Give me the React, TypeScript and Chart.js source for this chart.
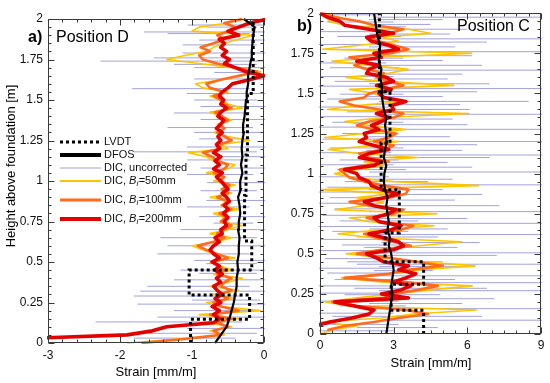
import React, { useEffect, useRef } from "react";
import { Chart, registerables } from "chart.js";

Chart.register(...registerables);

const FONT = '"Liberation Sans", Arial, Helvetica, sans-serif';

// ---------- shared height grid for the filtered DIC curves (m) ----------
const gridH = [
  0, 0.025, 0.05, 0.075, 0.1, 0.125, 0.15, 0.175, 0.2, 0.225,
  0.25, 0.275, 0.3, 0.325, 0.35, 0.375, 0.4, 0.425, 0.45, 0.475,
  0.5, 0.525, 0.55, 0.575, 0.6, 0.625, 0.65, 0.675, 0.7, 0.725,
  0.75, 0.775, 0.8, 0.825, 0.85, 0.875, 0.9, 0.925, 0.95, 0.975,
  1, 1.025, 1.05, 1.075, 1.1, 1.125, 1.15, 1.175, 1.2, 1.225,
  1.25, 1.275, 1.3, 1.325, 1.35, 1.375, 1.4, 1.425, 1.45, 1.475,
  1.5, 1.525, 1.55, 1.575, 1.6, 1.625, 1.65, 1.675, 1.7, 1.725,
  1.75, 1.775, 1.8, 1.825, 1.85, 1.875, 1.9, 1.925, 1.95, 1.975,
  2,
];

// ---------- Position D (left panel), strain in mm/m ----------
const dLvdtH = [0, 0.146, 0.146, 0.296, 0.296, 0.45, 0.45, 0.63, 0.63, 0.91, 0.91, 1.16, 1.16, 1.54, 1.54, 2];
const dLvdtV = [-1.02, -1.02, -0.2, -0.2, -1.04, -1.04, -0.17, -0.17, -0.27, -0.27, -0.25, -0.25, -0.23, -0.23, -0.15, -0.15];

const dDfosH = [0, 0.05, 0.1, 0.15, 0.2, 0.25, 0.3, 0.35, 0.4, 0.45, 0.5, 0.55, 0.6, 0.65, 0.7, 0.75, 0.8, 0.85, 0.9, 0.95, 1, 1.05, 1.1, 1.15, 1.2, 1.25, 1.3, 1.35, 1.4, 1.45, 1.5, 1.55, 1.6, 1.65, 1.7, 1.75, 1.8, 1.85, 1.9, 1.95, 1.975, 2];
const dDfosV = [-0.68, -0.6, -0.52, -0.48, -0.45, -0.42, -0.4, -0.38, -0.38, -0.36, -0.37, -0.35, -0.35, -0.34, -0.36, -0.35, -0.33, -0.34, -0.36, -0.32, -0.33, -0.3, -0.32, -0.3, -0.31, -0.3, -0.28, -0.29, -0.27, -0.26, -0.25, -0.24, -0.22, -0.22, -0.2, -0.18, -0.17, -0.16, -0.15, -0.13, -0.2, -0.28];

// uncorrected DIC: noisy excursions, one horizontal trace per height (left end, right end)
const dRawH = [
  0.03, 0.06, 0.09, 0.13, 0.16, 0.2, 0.24, 0.265, 0.29, 0.32,
  0.35, 0.39, 0.43, 0.45, 0.49, 0.51, 0.55, 0.6, 0.65, 0.7,
  0.74, 0.78, 0.84, 0.88, 0.94, 0.99, 1.04, 1.08, 1.13, 1.15,
  1.18, 1.21, 1.26, 1.3, 1.33, 1.38, 1.42, 1.46, 1.5, 1.54,
  1.57, 1.63, 1.67, 1.7, 1.72, 1.74, 1.76, 1.79, 1.84, 1.87,
  1.91, 1.92, 1.95, 1.963,
];
const dRawLo = [
  -1.81, -1.62, -1.07, -2.34, -1.48, -1.25, -1.76, -1.0, -1.81, -1.72,
  -1.62, -1.25, -0.9, -1.16, -0.8, -0.97, -1.48, -1.34, -1.44, -1.16,
  -0.7, -0.9, -1.07, -0.8, -0.88, -0.79, -1.07, -0.88, -1.07, -0.79,
  -1.81, -1.07, -0.9, -0.97, -1.34, -0.88, -1.25, -0.88, -0.97, -1.07,
  -1.83, -0.97, -0.69, -0.97, -1.25, -2.27, -1.53, -1.13, -1.13, -0.9,
  -1.34, -1.67, -0.79, -1.06,
];
const dRawHi = [
  -0.4, -0.1, 0.1, -0.3, 0.05, -0.15, 0.1, -0.05, -0.3, 0.1,
  -0.2, 0.05, -0.1, 0.1, -0.1, 0.1, -0.2, 0.05, -0.1, 0.1,
  -0.15, 0.05, -0.2, 0.1, -0.1, 0.05, -0.15, 0.1, -0.2, 0.05,
  -0.1, 0.1, -0.2, 0.0, -0.15, 0.1, -0.2, 0.05, -0.1, 0.1,
  -0.2, 0.1, -0.05, 0.05, -0.1, 0.0, -0.15, 0.1, -0.1, 0.05,
  -0.2, 0.1, -0.1, 0.0,
];

const dDic50 = [
  -1.9, -1.2, -0.55, -0.75, -0.45, -0.8, -0.35, -0.9, -0.05, -0.6,
  -0.8, -0.4, -0.7, -0.35, -0.75, -0.5, -0.3, -0.7, -0.45, -0.6,
  -0.75, -0.4, -0.7, -0.85, -1.0, -0.65, -0.45, -0.75, -0.5, -0.3,
  -0.6, -0.55, -0.7, -0.35, -0.6, -0.5, -0.75, -0.45, -0.6, -0.4,
  -0.7, -0.55, -0.8, -0.5, -0.4, -0.7, -0.8, -1.05, -0.5, -0.6,
  -0.2, -0.5, -0.7, -0.55, -0.65, -0.45, -0.6, -0.75, -0.3, -0.5,
  -0.6, -0.75, -0.5, -0.85, -0.95, -0.6, -0.3, -0.05, -0.45, -0.9,
  -1.35, -1.1, -0.8, -0.7, -0.55, -0.35, -0.15, -1.0, -0.9, -0.5,
  -0.3,
];
const dDic100 = [
  -1.7, -1.1, -0.6, -0.7, -0.5, -0.65, -0.45, -0.75, -0.35, -0.6,
  -0.7, -0.5, -0.62, -0.45, -0.6, -0.55, -0.45, -0.65, -0.55, -0.62,
  -0.7, -0.5, -0.65, -0.8, -0.92, -0.7, -0.55, -0.65, -0.55, -0.45,
  -0.6, -0.52, -0.62, -0.45, -0.58, -0.5, -0.65, -0.5, -0.58, -0.48,
  -0.62, -0.55, -0.7, -0.55, -0.5, -0.65, -0.72, -0.85, -0.6, -0.62,
  -0.45, -0.55, -0.65, -0.55, -0.62, -0.5, -0.58, -0.68, -0.45, -0.55,
  -0.6, -0.7, -0.55, -0.75, -0.8, -0.6, -0.35, -0.1, -0.4, -0.65,
  -0.85, -0.9, -0.75, -0.88, -0.7, -0.55, -0.65, -0.5, -0.4, -0.55,
  -0.3,
];
const dDic200 = [
  null, -3.5, -1.9, -1.55, -1.35, -0.7, -0.62, -0.7, -0.62, -0.72,
  -0.6, -0.68, -0.58, -0.65, -0.7, -0.6, -0.66, -0.58, -0.68, -0.62,
  -0.72, -0.62, -0.7, -0.75, -0.7, -0.62, -0.68, -0.58, -0.6, -0.52,
  -0.55, -0.5, -0.56, -0.5, -0.55, -0.48, -0.52, -0.58, -0.5, -0.55,
  -0.6, -0.66, -0.58, -0.7, -0.62, -0.68, -0.6, -0.7, -0.62, -0.66,
  -0.6, -0.64, -0.58, -0.66, -0.6, -0.56, -0.64, -0.6, -0.52, -0.6,
  -0.56, -0.62, -0.58, -0.5, -0.44, -0.2, 0.0, -0.25, -0.4, -0.55,
  -0.48, -0.58, -0.52, -0.6, -0.55, -0.62, -0.35, -0.5, -0.35, -0.2,
  0.05,
];

// ---------- Position C (right panel) ----------
const cLvdtH = [0, 0.148, 0.148, 0.31, 0.31, 0.45, 0.45, 0.63, 0.63, 0.9, 0.9, 1.19, 1.19, 1.51, 1.51, 2];
const cLvdtV = [4.22, 4.22, 2.9, 2.9, 4.22, 4.22, 2.65, 2.65, 3.23, 3.23, 2.49, 2.49, 2.85, 2.85, 2.42, 2.42];

const cDfosH = [0, 0.05, 0.1, 0.15, 0.2, 0.25, 0.3, 0.35, 0.4, 0.45, 0.5, 0.55, 0.6, 0.65, 0.7, 0.75, 0.8, 0.85, 0.9, 0.95, 1, 1.05, 1.1, 1.15, 1.2, 1.25, 1.3, 1.35, 1.4, 1.45, 1.5, 1.55, 1.6, 1.65, 1.7, 1.75, 1.8, 1.85, 1.9, 1.95, 2];
const cDfosV = [2.7, 2.75, 2.8, 2.85, 2.9, 2.95, 2.9, 2.95, 3.0, 2.95, 2.9, 2.8, 2.85, 2.75, 2.8, 2.75, 2.7, 2.75, 2.65, 2.6, 2.62, 2.7, 2.6, 2.65, 2.72, 2.7, 2.65, 2.7, 2.6, 2.55, 2.5, 2.52, 2.45, 2.5, 2.4, 2.42, 2.45, 2.35, 2.3, 2.25, 2.2];

const cRawH = [
  0.02, 0.04, 0.06, 0.086, 0.11, 0.13, 0.158, 0.175, 0.19, 0.205,
  0.22, 0.245, 0.255, 0.27, 0.285, 0.3, 0.32, 0.34, 0.363, 0.38,
  0.395, 0.41, 0.42, 0.435, 0.45, 0.47, 0.49, 0.506, 0.52, 0.54,
  0.555, 0.57, 0.59, 0.605, 0.62, 0.64, 0.655, 0.67, 0.69, 0.705,
  0.72, 0.74, 0.763, 0.78, 0.8, 0.815, 0.835, 0.85, 0.87, 0.885,
  0.9, 0.915, 0.93, 0.95, 0.965, 0.98, 1.01, 1.025, 1.04, 1.055,
  1.07, 1.085, 1.1, 1.116, 1.13, 1.145, 1.16, 1.18, 1.2, 1.215,
  1.23, 1.25, 1.276, 1.29, 1.305, 1.32, 1.34, 1.355, 1.37, 1.385,
  1.4, 1.415, 1.43, 1.45, 1.465, 1.48, 1.495, 1.51, 1.53, 1.545,
  1.56, 1.575, 1.59, 1.605, 1.62, 1.645, 1.66, 1.675, 1.69, 1.705,
  1.72, 1.735, 1.76, 1.775, 1.79, 1.805, 1.82, 1.84, 1.855, 1.87,
  1.885, 1.9, 1.915, 1.93, 1.945, 1.96, 1.975, 1.99,
];
const cRawLo = [
  -0.5, 1.5, 0.2, 2.5, 0.5, -0.3, 2.2, 0.8, 2.0, -0.2,
  1.5, 1.0, -0.3, 2.4, 1.4, -0.4, 2.5, 0.6, 2.0, 0.3,
  2.2, -0.3, 2.4, 1.5, 1.1, 0.2, 2.2, 2.0, -0.2, 1.8,
  0.9, 2.5, 0.0, 1.5, 2.3, 0.5, 2.0, -0.4, 2.5, 0.8,
  2.2, 0.1, 2.0, 0.6, 2.3, -0.3, 1.6, 0.4, 2.4, -0.2,
  2.0, 0.3, 2.5, 1.0, 2.2, -0.2, 2.0, 0.7, 2.3, 0.0,
  1.8, 0.8, 2.2, 2.5, -0.3, 1.9, 0.4, 2.4, 2.0, 0.1,
  2.0, 0.9, 2.4, -0.2, 2.2, 0.5, 2.0, 0.0, 2.3, 1.1,
  2.2, -0.4, 2.0, 2.4, 0.3, 1.8, 0.8, 2.2, 2.3, -0.2,
  2.0, 0.6, 2.2, 0.0, 1.8, 2.3, 0.4, 2.0, -0.3, 2.2,
  1.0, 2.0, 2.4, 0.2, 2.0, -0.4, 2.2, 2.3, 0.7, 2.0,
  0.0, 2.2, 1.2, 2.0, 0.3, 2.0, 2.2, -0.2,
];
const cRawHi = [
  3.0, 4.8, 3.2, 9.5, 6.6, 3.0, 9.5, 3.5, 5.8, 3.2,
  7.1, 4.9, 2.8, 9.5, 6.8, 3.0, 9.5, 5.5, 9.5, 3.4,
  4.6, 3.0, 6.3, 9.5, 5.0, 3.3, 7.2, 9.5, 3.0, 5.6,
  3.4, 6.5, 3.2, 4.8, 9.5, 3.6, 5.2, 2.8, 9.5, 4.0,
  6.0, 3.0, 9.5, 3.5, 7.3, 2.6, 5.5, 3.0, 6.6, 3.2,
  5.0, 3.3, 9.5, 4.4, 5.4, 2.8, 9.5, 3.5, 6.2, 3.0,
  5.2, 3.2, 6.9, 9.5, 2.9, 5.8, 3.4, 6.4, 9.5, 3.0,
  5.3, 3.2, 9.5, 2.7, 6.0, 3.4, 5.4, 2.9, 9.5, 3.8,
  6.1, 2.8, 5.7, 8.5, 3.0, 5.0, 3.4, 6.4, 9.5, 2.8,
  6.9, 3.2, 5.2, 3.0, 5.8, 9.5, 3.2, 6.6, 2.7, 5.0,
  3.4, 6.2, 9.5, 3.0, 5.5, 2.6, 6.8, 9.5, 3.3, 5.3,
  2.8, 6.0, 3.5, 4.5, 3.0, 5.0, 9.5, 2.4,
];

const cDic50 = [
  0.0, 0.5, 1.5, 0.0, 2.5, 3.8, 6.37, 1.2, 0.2, 1.5,
  3.0, 4.5, 6.2, 2.5, 0.87, 2.8, 4.0, 6.32, 4.2, 2.5,
  1.07, 2.5, 4.0, 5.78, 2.2, 0.73, 2.5, 4.64, 2.0, 1.2,
  4.77, 0.6, 1.8, 2.6, 1.5, 3.0, 0.07, 6.46, 3.0, 1.4,
  0.6, 1.5, 2.6, 1.8, 3.96, 1.6, 0.33, 2.2, 3.2, 0.2,
  1.8, 3.5, 2.0, 1.0, 2.6, 6.05, 0.3, 1.5, 3.5, 2.6,
  2.2, 1.2, 5.45, 2.5, 1.06, 2.8, 3.6, 2.0, 0.48, 2.4,
  6.18, 0.1, 1.6, 3.2, 2.5, 4.5, 3.6, 1.0, 0.33, 0.8,
  0.2,
];
const cDic100 = [
  null, 0.3, 1.0, 2.2, 3.2, 4.4, 3.5, 1.5, 0.5, 2.6,
  3.0, 4.0, 4.8, 3.4, 1.0, 2.8, 3.6, 5.0, 3.9, 2.8,
  1.5, 2.5, 3.7, 3.0, 2.3, 1.8, 3.3, 3.8, 2.5, 1.9,
  3.0, 3.4, 2.0, 1.2, 2.8, 3.5, 3.6, 2.6, 1.8, 1.2,
  1.0, 0.8, 1.8, 2.8, 2.0, 1.6, 2.6, 3.0, 2.2, 2.8,
  3.1, 2.2, 1.5, 2.0, 3.0, 3.4, 2.4, 1.4, 0.8, 1.8,
  2.0, 2.6, 3.4, 2.8, 2.3, 2.6, 1.9, 1.4, 1.8, 1.2,
  2.9, 3.6, 3.0, 2.4, 2.0, 2.8, 3.4, 2.2, 1.6, 0.6,
  0.1,
];
const cDic200 = [
  null, -0.5, -0.2, 0.4, 1.3, 2.0, 2.2, 1.4, 0.6, 3.6,
  2.5, 3.3, 3.7, 3.0, 3.5, 3.9, 3.2, 3.6, 2.6, 2.3,
  1.9, 3.0, 3.4, 3.2, 2.6, 2.0, 2.9, 3.3, 2.4, 2.2,
  2.8, 3.1, 2.2, 1.8, 2.6, 3.2, 2.5, 2.1, 2.0, 1.6,
  1.5, 1.0, 2.2, 2.5, 1.6, 2.0, 2.8, 2.2, 1.6, 1.9,
  1.8, 2.4, 2.1, 2.5, 2.8, 2.3, 3.0, 2.9, 3.5, 2.6,
  2.4, 2.9, 2.3, 3.0, 2.7, 1.9, 2.0, 2.4, 1.5, 2.5,
  2.2, 3.2, 2.8, 2.1, 1.9, 3.0, 2.0, 1.0, 0.8, 0.3,
  0.0,
];

// ---------- axes ----------
const yTicks = [0, 0.25, 0.5, 0.75, 1, 1.25, 1.5, 1.75, 2];
const dXTicks = [-3, -2, -1, 0];
const cXTicks = [0, 3, 6, 9];

const legendLabels = ["LVDT", "DFOS", "DIC, uncorrected", "DIC, B_i=50mm", "DIC, B_i=100mm", "DIC, B_i=200mm"];

const COL_RAW = "rgba(100,100,198,0.6)";
const COL_50 = "#ffc400";
const COL_100 = "#ff6a1c";
const COL_200 = "#e20000";

function pts(hs: number[], vs: (number | null)[]) {
  const out: { x: number; y: number }[] = [];
  for (let i = 0; i < hs.length; i++) {
    const v = vs[i];
    if (v !== null && v !== undefined) out.push({ x: v, y: hs[i] });
  }
  return out;
}

function traces(hs: number[], lo: number[], hi: number[]) {
  const out: { x: number | null; y: number | null }[] = [];
  for (let i = 0; i < hs.length; i++) {
    out.push({ x: lo[i], y: hs[i] });
    out.push({ x: hi[i], y: hs[i] });
    out.push({ x: null, y: null });
  }
  return out;
}

function drawFrame(chart: any, xMin: number, xMax: number, xMajor: number[], xMinor: number) {
  const { ctx, chartArea: a } = chart;
  const xs = chart.scales.x;
  const ys = chart.scales.y;
  ctx.save();
  ctx.strokeStyle = "#3a3a3a";
  ctx.lineWidth = 1;
  const L = Math.round(a.left) + 0.5;
  const R = Math.round(a.right) - 0.5;
  const T = Math.round(a.top) + 0.5;
  const B = Math.round(a.bottom) - 0.5;
  ctx.strokeRect(L, T, R - L, B - T);
  ctx.beginPath();
  const nX = Math.round((xMax - xMin) / xMinor);
  for (let i = 0; i <= nX; i++) {
    const v = xMin + i * xMinor;
    const major = xMajor.some((m) => Math.abs(m - v) < 1e-6);
    const len = major ? 6 : 3;
    const px = Math.round(xs.getPixelForValue(v)) + 0.5;
    ctx.moveTo(px, B);
    ctx.lineTo(px, B - len);
    ctx.moveTo(px, T);
    ctx.lineTo(px, T + len);
  }
  const nY = 40;
  for (let i = 0; i <= nY; i++) {
    const v = i * 0.05;
    const major = yTicks.some((m) => Math.abs(m - v) < 1e-6);
    const len = major ? 6 : 3;
    const py = Math.round(ys.getPixelForValue(v)) + 0.5;
    ctx.moveTo(L, py);
    ctx.lineTo(L + len, py);
    ctx.moveTo(R, py);
    ctx.lineTo(R - len, py);
  }
  ctx.stroke();
  ctx.restore();
}

const legendRowY = [142, 155, 168, 181, 200, 219];
const legendStyle = [
  { color: "#000", width: 3, dash: [3, 3] },
  { color: "#000", width: 4, dash: [] as number[] },
  { color: COL_RAW, width: 1, dash: [] as number[] },
  { color: COL_50, width: 2, dash: [] as number[] },
  { color: COL_100, width: 3, dash: [] as number[] },
  { color: COL_200, width: 4, dash: [] as number[] },
];

function drawLegend(ctx: CanvasRenderingContext2D) {
  legendLabels.forEach((lab, i) => {
    const y = legendRowY[i];
    const s = legendStyle[i];
    ctx.save();
    ctx.strokeStyle = s.color;
    ctx.lineWidth = s.width;
    ctx.setLineDash(s.dash);
    ctx.beginPath();
    ctx.moveTo(60, y);
    ctx.lineTo(101, y);
    ctx.stroke();
    ctx.restore();
    ctx.save();
    ctx.fillStyle = "#111";
    ctx.textBaseline = "middle";
    ctx.textAlign = "left";
    let x = 104;
    const m = lab.match(/^(.*)B_i(.*)$/);
    if (m) {
      ctx.font = `11px ${FONT}`;
      ctx.fillText(m[1], x, y);
      x += ctx.measureText(m[1]).width;
      ctx.font = `italic 11px ${FONT}`;
      ctx.fillText("B", x, y);
      x += ctx.measureText("B").width;
      ctx.font = `italic 8px ${FONT}`;
      ctx.fillText("i", x, y + 3);
      x += ctx.measureText("i").width + 0.5;
      ctx.font = `11px ${FONT}`;
      ctx.fillText(m[2], x, y);
    } else {
      ctx.font = `11px ${FONT}`;
      ctx.fillText(lab, x, y);
    }
    ctx.restore();
  });
}

type Spec = {
  lvdtH: number[]; lvdtV: number[]; dfosH: number[]; dfosV: number[];
  rawH: number[]; rawLo: number[]; rawHi: number[];
  d50: (number | null)[]; d100: (number | null)[]; d200: (number | null)[];
  xMin: number; xMax: number; xTicks: number[]; xMinor: number;
  yAxisWidth: number; xAxisHeight: number;
  pad: { left: number; right: number; top: number; bottom: number };
  yPad: number; xPad: number;
  extra: (ctx: CanvasRenderingContext2D) => void;
};

function makeConfig(s: Spec): any {
  const tickFont = { family: FONT, size: 12 };
  const common = { showLine: true, pointRadius: 0, pointHoverRadius: 0, tension: 0, clip: 1, spanGaps: false };
  return {
    type: "scatter",
    data: {
      datasets: [
        { ...common, label: "LVDT", data: pts(s.lvdtH, s.lvdtV), borderColor: "#000", borderWidth: 3, borderDash: [3, 3] },
        { ...common, label: "DFOS", data: pts(s.dfosH, s.dfosV), borderColor: "#000", borderWidth: 2.2 },
        { ...common, label: "200", data: pts(gridH, s.d200), borderColor: COL_200, borderWidth: 3.6, borderJoinStyle: "round" },
        { ...common, label: "100", data: pts(gridH, s.d100), borderColor: COL_100, borderWidth: 2.6, borderJoinStyle: "round" },
        { ...common, label: "50", data: pts(gridH, s.d50), borderColor: COL_50, borderWidth: 1.6, borderJoinStyle: "round" },
        { ...common, label: "raw", data: traces(s.rawH, s.rawLo, s.rawHi), borderColor: COL_RAW, borderWidth: 1 },
      ],
    },
    options: {
      animation: false,
      responsive: false,
      devicePixelRatio: 1,
      events: [],
      layout: { padding: s.pad },
      plugins: { legend: { display: false }, tooltip: { enabled: false }, title: { display: false } },
      scales: {
        x: {
          type: "linear",
          min: s.xMin,
          max: s.xMax,
          afterBuildTicks: (sc: any) => { sc.ticks = s.xTicks.map((v) => ({ value: v })); },
          afterFit: (sc: any) => { sc.height = s.xAxisHeight; },
          ticks: { font: tickFont, color: "#111", padding: s.xPad, maxRotation: 0, autoSkip: false, callback: (v: any) => String(v) },
          grid: { display: false, drawTicks: false },
          border: { display: false },
        },
        y: {
          type: "linear",
          min: 0,
          max: 2,
          afterBuildTicks: (sc: any) => { sc.ticks = yTicks.map((v) => ({ value: v })); },
          afterFit: (sc: any) => { sc.width = s.yAxisWidth; },
          ticks: { font: tickFont, color: "#111", padding: s.yPad, autoSkip: false, callback: (v: any) => String(v) },
          grid: { display: false, drawTicks: false },
          border: { display: false },
        },
      },
    },
    plugins: [
      {
        id: "decor",
        afterDatasetsDraw(chart: any) { drawFrame(chart, s.xMin, s.xMax, s.xTicks, s.xMinor); },
        afterDraw(chart: any) { s.extra(chart.ctx); },
      },
    ],
  };
}

const leftSpec: Spec = {
  lvdtH: dLvdtH, lvdtV: dLvdtV, dfosH: dDfosH, dfosV: dDfosV,
  rawH: dRawH, rawLo: dRawLo, rawHi: dRawHi, d50: dDic50, d100: dDic100, d200: dDic200,
  xMin: -3, xMax: 0, xTicks: dXTicks, xMinor: 0.2,
  yAxisWidth: 48, xAxisHeight: 40,
  pad: { left: 0, right: 11, top: 19, bottom: 0 },
  yPad: 5, xPad: 5,
  extra: (ctx) => {
    ctx.save();
    ctx.fillStyle = "#000";
    ctx.textAlign = "left";
    ctx.textBaseline = "alphabetic";
    ctx.font = `bold 16px ${FONT}`;
    ctx.fillText("a)", 28, 41.5);
    ctx.font = `16px ${FONT}`;
    ctx.fillText("Position D", 56, 41.5);
    ctx.font = `13px ${FONT}`;
    ctx.textAlign = "center";
    ctx.textBaseline = "middle";
    ctx.fillText("Strain [mm/m]", 156, 372);
    ctx.translate(11, 166);
    ctx.rotate(-Math.PI / 2);
    ctx.fillText("Height above foundation [m]", 0, 0);
    ctx.restore();
    drawLegend(ctx);
  },
};

const rightSpec: Spec = {
  lvdtH: cLvdtH, lvdtV: cLvdtV, dfosH: cDfosH, dfosV: cDfosV,
  rawH: cRawH, rawLo: cRawLo, rawHi: cRawHi, d50: cDic50, d100: cDic100, d200: cDic200,
  xMin: 0, xMax: 9, xTicks: cXTicks, xMinor: 0.5,
  yAxisWidth: 45, xAxisHeight: 49,
  pad: { left: 0, right: 9, top: 9, bottom: 0 },
  yPad: 6, xPad: 4,
  extra: (ctx) => {
    ctx.save();
    ctx.fillStyle = "#000";
    ctx.textAlign = "left";
    ctx.textBaseline = "alphabetic";
    ctx.font = `bold 16px ${FONT}`;
    ctx.fillText("b)", 22, 30.5);
    ctx.font = `16px ${FONT}`;
    ctx.fillText("Position C", 182, 30.5);
    ctx.font = `13px ${FONT}`;
    ctx.textAlign = "center";
    ctx.textBaseline = "middle";
    ctx.fillText("Strain [mm/m]", 156, 363);
    ctx.restore();
  },
};

export default function App() {
  const leftRef = useRef<HTMLCanvasElement>(null);
  const rightRef = useRef<HTMLCanvasElement>(null);
  useEffect(() => {
    const c1 = new Chart(leftRef.current as HTMLCanvasElement, makeConfig(leftSpec));
    const c2 = new Chart(rightRef.current as HTMLCanvasElement, makeConfig(rightSpec));
    return () => {
      c1.destroy();
      c2.destroy();
    };
  }, []);
  return (
    <div style={{ position: "fixed", left: 0, top: 0, width: 550, height: 383, background: "#fff", overflow: "hidden" }}>
      <canvas ref={leftRef} width={275} height={383} style={{ position: "absolute", left: 0, top: 0, width: 275, height: 383 }} />
      <canvas ref={rightRef} width={275} height={383} style={{ position: "absolute", left: 275, top: 0, width: 275, height: 383 }} />
    </div>
  );
}
